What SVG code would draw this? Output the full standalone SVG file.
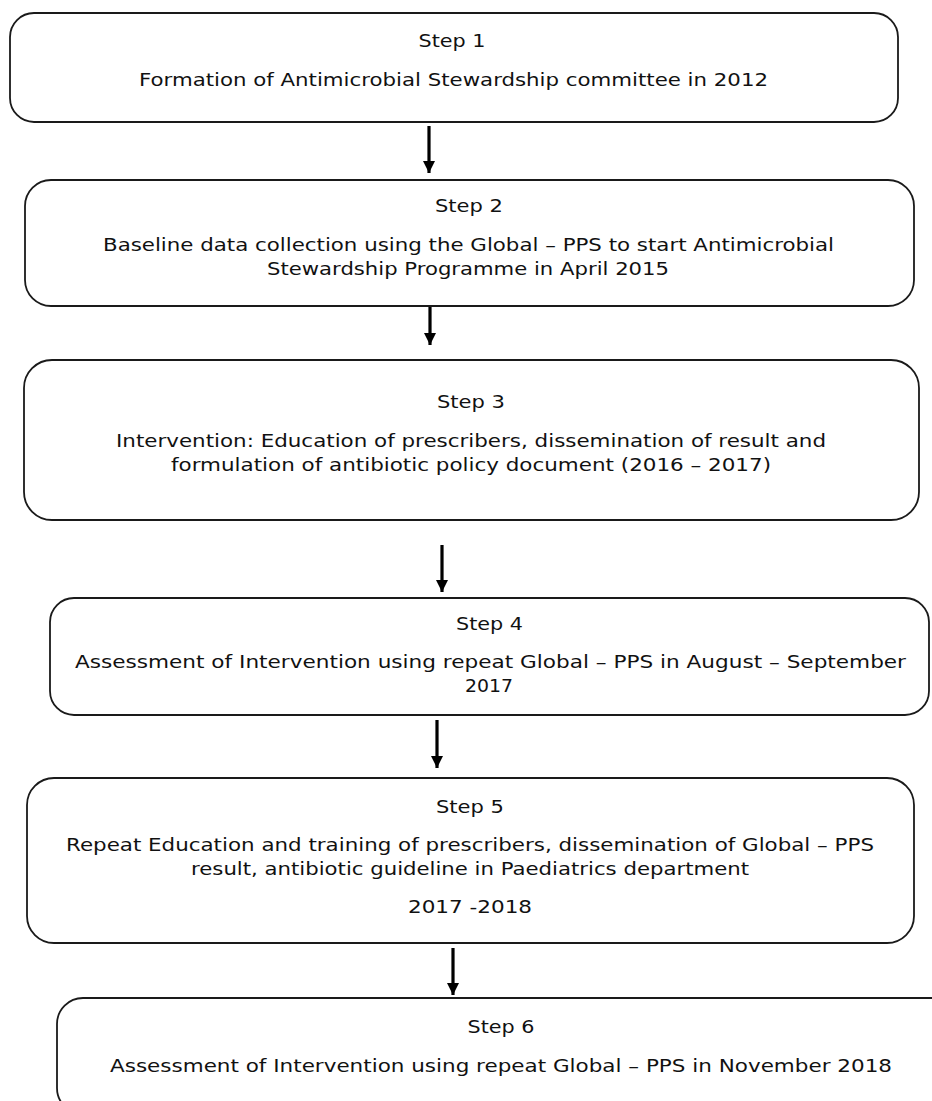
<svg xmlns="http://www.w3.org/2000/svg" width="932" height="1101" viewBox="0 0 932 1101">
<defs>
<style>
.box{fill:#fff;stroke:#1a1a1a;stroke-width:1.8}
.t{font-family:"DejaVu Sans",Verdana,sans-serif;font-size:17px;fill:#111;text-anchor:middle}
.c{stroke:#000;stroke-width:3.2;fill:none}
</style>
<marker id="ad" markerUnits="userSpaceOnUse" markerWidth="14" markerHeight="14" viewBox="0 0 14 14" refX="13" refY="7" orient="auto">
<path d="M1,1 L13,7 L1,13 Z" fill="#000"/>
</marker>
</defs>
<rect width="932" height="1101" fill="#fff"/>
<g id="connectors">
<line class="c" x1="429" y1="126" x2="429" y2="173" marker-end="url(#ad)"/>
<line class="c" x1="430" y1="306" x2="430" y2="345" marker-end="url(#ad)"/>
<line class="c" x1="442" y1="545" x2="442" y2="592" marker-end="url(#ad)"/>
<line class="c" x1="437" y1="720" x2="437" y2="768" marker-end="url(#ad)"/>
<line class="c" x1="453" y1="948" x2="453" y2="995" marker-end="url(#ad)"/>
</g>
<g id="step1">
<rect class="box" x="10" y="13" width="888" height="109" rx="24"/>
<text class="t" x="452" y="47" textLength="67" lengthAdjust="spacingAndGlyphs">Step 1</text>
<text class="t" x="453.5" y="86" textLength="629" lengthAdjust="spacingAndGlyphs">Formation of Antimicrobial Stewardship committee in 2012</text>
</g>
<g id="step2">
<rect class="box" x="25" y="180" width="889" height="126" rx="26"/>
<text class="t" x="469" y="212" textLength="68" lengthAdjust="spacingAndGlyphs">Step 2</text>
<text class="t" x="468.5" y="251" textLength="731" lengthAdjust="spacingAndGlyphs">Baseline data collection using the Global – PPS to start Antimicrobial</text>
<text class="t" x="468" y="275" textLength="402" lengthAdjust="spacingAndGlyphs">Stewardship Programme in April 2015</text>
</g>
<g id="step3">
<rect class="box" x="24" y="360" width="895" height="160" rx="28"/>
<text class="t" x="471" y="408" textLength="68" lengthAdjust="spacingAndGlyphs">Step 3</text>
<text class="t" x="471" y="447" textLength="710" lengthAdjust="spacingAndGlyphs">Intervention: Education of prescribers, dissemination of result and</text>
<text class="t" x="471" y="471" textLength="600" lengthAdjust="spacingAndGlyphs">formulation of antibiotic policy document (2016 – 2017)</text>
</g>
<g id="step4">
<rect class="box" x="50" y="598" width="879" height="117" rx="24"/>
<text class="t" x="489.5" y="630" textLength="67" lengthAdjust="spacingAndGlyphs">Step 4</text>
<text class="t" x="490.5" y="668" textLength="831" lengthAdjust="spacingAndGlyphs">Assessment of Intervention using repeat Global – PPS in August – September</text>
<text class="t" x="489" y="692" textLength="48" lengthAdjust="spacingAndGlyphs">2017</text>
</g>
<g id="step5">
<rect class="box" x="27" y="778" width="887" height="165" rx="27"/>
<text class="t" x="470" y="813" textLength="68" lengthAdjust="spacingAndGlyphs">Step 5</text>
<text class="t" x="470" y="851" textLength="808" lengthAdjust="spacingAndGlyphs">Repeat Education and training of prescribers, dissemination of Global – PPS</text>
<text class="t" x="470" y="875" textLength="558" lengthAdjust="spacingAndGlyphs">result, antibiotic guideline in Paediatrics department</text>
<text class="t" x="470" y="913" textLength="124" lengthAdjust="spacingAndGlyphs">2017 -2018</text>
</g>
<g id="step6">
<rect class="box" x="57" y="998" width="900" height="116" rx="26"/>
<text class="t" x="501" y="1033" textLength="67" lengthAdjust="spacingAndGlyphs">Step 6</text>
<text class="t" x="501" y="1072" textLength="782" lengthAdjust="spacingAndGlyphs">Assessment of Intervention using repeat Global – PPS in November 2018</text>
</g>
</svg>
